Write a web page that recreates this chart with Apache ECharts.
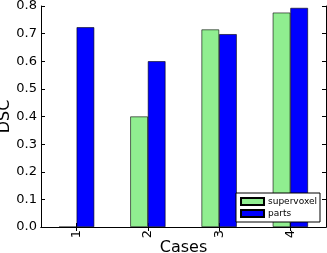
<!DOCTYPE html>
<html><head><meta charset="utf-8">
<script src="https://cdn.jsdelivr.net/npm/echarts@6/dist/echarts.min.js"></script>
<style>html,body{margin:0;padding:0;background:#fff}#c{width:327px;height:253px}</style>
</head><body><div id="c"></div>
<script>
const categories = ['1', '2', '3', '4'];
const supervoxel = [0, 0.40, 0.715, 0.776];
const parts = [0.723, 0.600, 0.698, 0.793];
const yTicks = [0, 0.8, 0.1];
const F = 'DejaVu Sans';
const chart = echarts.init(document.getElementById('c'), null, {renderer: 'canvas'});
const axLine = {show: true, lineStyle: {color: '#000', width: 1}};
chart.setOption({
  animation: false,
  grid: {left: 41, right: 1, top: 6, bottom: 26, containLabel: false, outerBoundsMode: 'none'},
  legend: {
    orient: 'vertical', right: 7, bottom: 31, icon: 'rect',
    backgroundColor: '#fff', borderColor: '#000', borderWidth: 1, borderRadius: 0,
    padding: [4, 3, 4, 4], itemGap: 3, itemWidth: 23, itemHeight: 7,
    textStyle: {fontFamily: F, fontSize: 9, color: '#000', padding: [0, 0, 0, -1]},
    data: ['supervoxel', 'parts']
  },
  xAxis: [{
    type: 'category', data: categories, position: 'bottom',
    name: 'Cases', nameLocation: 'middle', nameGap: 13, nameMoveOverlap: false,
    nameTextStyle: {fontFamily: F, fontSize: 16, color: '#000', verticalAlign: 'top'},
    axisLine: axLine,
    axisTick: {show: true, inside: true, alignWithLabel: true, length: 4, lineStyle: {color: '#000'}},
    axisLabel: {rotate: 90, fontFamily: F, fontSize: 13, color: '#000', margin: 3},
    splitLine: {show: false}
  }, {
    type: 'category', data: categories, position: 'top',
    axisLine: axLine,
    axisTick: {show: true, inside: true, alignWithLabel: true, length: 4, lineStyle: {color: '#000'}},
    axisLabel: {show: false}, splitLine: {show: false}
  }],
  yAxis: [{
    type: 'value', min: yTicks[0], max: yTicks[1], interval: yTicks[2], position: 'left',
    name: 'DSC', nameLocation: 'middle', nameGap: 28, nameMoveOverlap: false,
    nameTextStyle: {fontFamily: F, fontSize: 16, color: '#000'},
    axisLine: axLine,
    axisTick: {show: true, inside: true, length: 4, lineStyle: {color: '#000'}},
    axisLabel: {fontFamily: F, fontSize: 13, color: '#000', margin: 4, formatter: v => v.toFixed(1)},
    splitLine: {show: false}
  }, {
    type: 'value', min: yTicks[0], max: yTicks[1], interval: yTicks[2], position: 'right',
    axisLine: axLine,
    axisTick: {show: true, inside: true, length: 4, lineStyle: {color: '#000'}},
    axisLabel: {show: false}, splitLine: {show: false}
  }],
  series: [{
    name: 'supervoxel', type: 'bar', data: supervoxel, barWidth: 17.6, barGap: '0%',
    itemStyle: {color: '#90EE90', borderColor: '#000', borderWidth: 0.6}
  }, {
    name: 'parts', type: 'bar', data: parts, barWidth: 17.6, barGap: '0%',
    itemStyle: {color: '#0000FF', borderColor: '#000', borderWidth: 0.6}
  }]
});
</script></body></html>
